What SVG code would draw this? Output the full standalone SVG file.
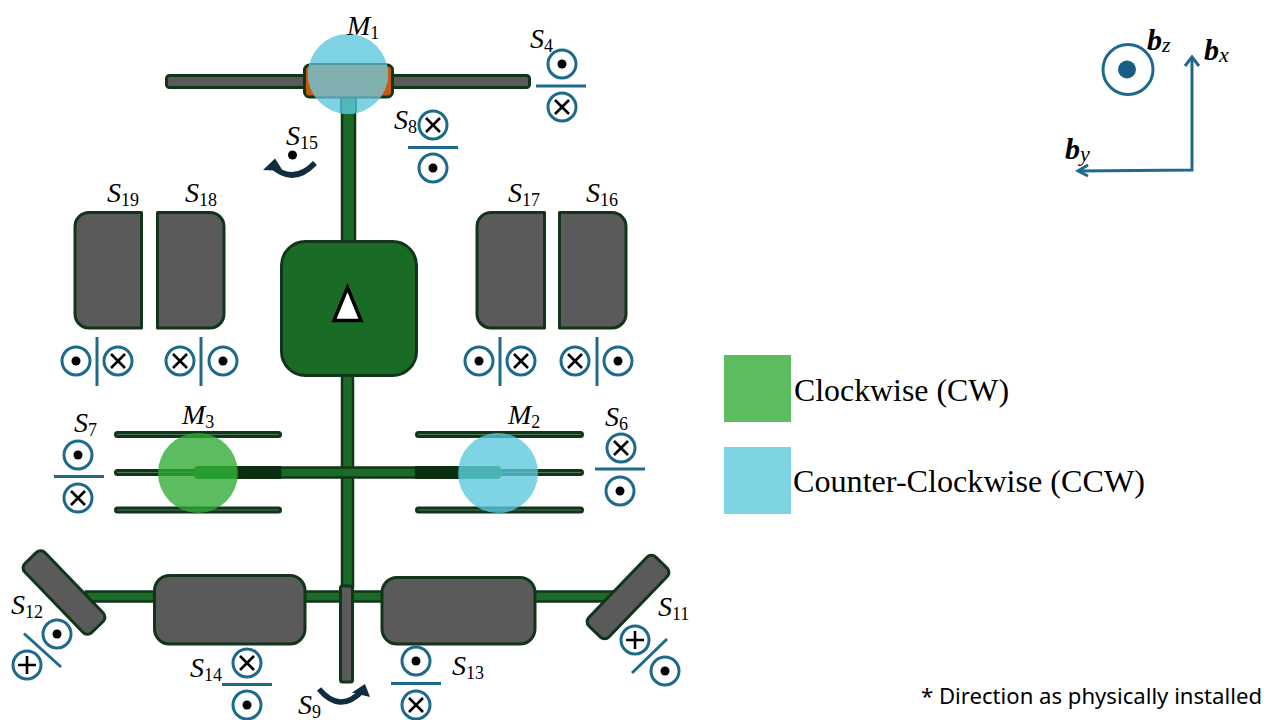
<svg xmlns="http://www.w3.org/2000/svg" xmlns:xlink="http://www.w3.org/1999/xlink" width="1280" height="720" viewBox="0 0 1280 720">
<style>
.shaft{fill:#1a6b25;stroke:#10351a;stroke-width:2.500}
.grey{fill:#5a5a5a;stroke:#10351a;stroke-width:3;stroke-linejoin:round}
.fin{fill:#4f7a55;stroke:#10351a;stroke-width:3}
.ring{fill:#fff;stroke:#1f6a8c;stroke-width:3}
.sep{stroke:#1f6a8c;stroke-width:3;fill:none}
.mark{stroke:#000;stroke-width:2.600;fill:none}
.lab{font-family:"Liberation Serif",serif;font-style:italic;font-size:28px;fill:#000}
.sub{font-style:normal;font-size:18px}
.bold{font-family:"Liberation Serif",serif;font-style:italic;font-weight:700;font-size:30px;fill:#000}
.bsub{font-style:italic;font-weight:400;font-size:22px}
.leg{font-family:"Liberation Serif",serif;font-size:32px;fill:#000}
.rot{fill:none;stroke:#0f2d3f;stroke-width:5.500}
.axis{fill:none;stroke:#1f6a8c;stroke-width:3}
</style>
<defs>
<g id="dot"><circle class="ring" r="14"/><circle r="4.500" fill="#000"/></g>
<g id="cross"><circle class="ring" r="14"/><path class="mark" d="M-7-7L7 7M7-7L-7 7"/></g>
<g id="plus"><circle class="ring" r="14"/><path class="mark" d="M-9 0H9M0-9V9"/></g>
<clipPath id="m1clip"><circle cx="348" cy="74" r="40"/></clipPath>
</defs>

<g id="connectors">
<rect class="shaft" x="342" y="96" width="13" height="146"/>
<rect class="shaft" x="342" y="375" width="11" height="212"/>
<rect class="shaft" x="280" y="467.500" width="136" height="10"/>
<rect class="shaft" x="86" y="591.500" width="530" height="10"/>
</g>

<g id="node-central">
<rect x="281.500" y="241.500" width="135" height="134" rx="24" fill="#1a6b25" stroke="#10351a" stroke-width="3"/>
<path d="M347.500 287.500L334 320.500H361Z" fill="#fff" stroke="#000" stroke-width="3.500"/>
</g>

<g id="node-M1">
<rect class="grey" x="166.500" y="75.500" width="363" height="12" rx="3"/>
<rect x="304.500" y="65" width="88" height="32" rx="5" fill="#c55a11" stroke="#10351a" stroke-width="3"/>
<circle cx="348" cy="74" r="40" fill="#7dd3e3"/>
<g clip-path="url(#m1clip)">
<rect x="304" y="64" width="89" height="33.500" fill="#80afb0" stroke="#4c9da4" stroke-width="2"/>
<rect x="341" y="98" width="15" height="18" fill="#4fb8b8" stroke="#45a5aa" stroke-width="2"/>
</g>
</g>

<g id="node-S19"><path class="grey" d="M141.500 212.500H89a14 14 0 0 0-14 14V314a14 14 0 0 0 14 14H141.500Z"/></g>
<g id="node-S18"><path class="grey" d="M157.500 212.500H210a14 14 0 0 1 14 14V314a14 14 0 0 1-14 14H157.500Z"/></g>
<g id="node-S17"><path class="grey" d="M544.500 212.500H491a14 14 0 0 0-14 14V314a14 14 0 0 0 14 14H544.500Z"/></g>
<g id="node-S16"><path class="grey" d="M559.500 212.500H612a14 14 0 0 1 14 14V314a14 14 0 0 1-14 14H559.500Z"/></g>

<g id="node-M3">
<rect class="fin" x="115.500" y="432.500" width="165" height="4" rx="2"/>
<rect class="fin" x="115.500" y="470.500" width="165" height="4" rx="2"/>
<rect class="fin" x="115.500" y="508" width="165" height="4" rx="2"/>
<rect x="195" y="467.500" width="86" height="10" rx="3" fill="#1a6b25" stroke="#1a6b25" stroke-width="3"/>
<rect x="236" y="466" width="45.500" height="13" fill="#0c2f12"/>
<circle cx="198" cy="473" r="40" fill="#2eab33" fill-opacity=".786"/>
</g>
<g id="node-M2">
<rect class="fin" x="416.500" y="432.500" width="166" height="4" rx="2"/>
<rect class="fin" x="416.500" y="470.500" width="166" height="4" rx="2"/>
<rect class="fin" x="416.500" y="508" width="166" height="4" rx="2"/>
<rect x="416" y="467.500" width="84" height="10" rx="3" fill="#1a6b25" stroke="#1a6b25" stroke-width="3"/>
<rect x="415" y="466" width="45" height="13" fill="#0c2f12"/>
<circle cx="498" cy="473" r="40" fill="#5ac7dc" fill-opacity=".786"/>
</g>

<g id="node-S14"><rect class="grey" x="154.500" y="575.500" width="150.500" height="68.500" rx="15"/></g>
<g id="node-S13"><rect class="grey" x="382" y="577.500" width="153" height="66.500" rx="15"/></g>
<g id="node-S12"><rect class="grey" x="16" y="578.500" width="96" height="28" rx="6" transform="rotate(46 64 592.500)"/></g>
<g id="node-S11"><rect class="grey" x="580" y="583" width="96" height="28" rx="6" transform="rotate(-46 628 597)"/></g>
<g id="node-S9"><rect class="grey" x="340.500" y="586" width="12" height="96" rx="2"/></g>

<g id="markers">
<use href="#dot" x="562" y="64"/><path class="sep" d="M536 86H586"/><use href="#cross" x="562" y="107"/>
<use href="#cross" x="433" y="125"/><path class="sep" d="M408 147.500H458"/><use href="#dot" x="433" y="168"/>
<use href="#dot" x="76" y="361"/><path class="sep" d="M97 337V386"/><use href="#cross" x="118" y="361"/>
<use href="#cross" x="180" y="361"/><path class="sep" d="M201 337V386"/><use href="#dot" x="223" y="361"/>
<use href="#dot" x="479" y="361"/><path class="sep" d="M500 337V386"/><use href="#cross" x="521" y="361"/>
<use href="#cross" x="575" y="361"/><path class="sep" d="M597 337V386"/><use href="#dot" x="618" y="361"/>
<use href="#dot" x="78" y="455"/><path class="sep" d="M54 476.500H104"/><use href="#cross" x="78" y="498"/>
<use href="#cross" x="621" y="448"/><path class="sep" d="M595 469H645"/><use href="#dot" x="620" y="491"/>
<use href="#dot" x="57" y="634"/><path class="sep" d="M24 633.500L61 667"/><use href="#plus" x="27" y="665"/>
<use href="#plus" x="635" y="640"/><path class="sep" d="M632 673L667 639"/><use href="#dot" x="665" y="671"/>
<use href="#cross" x="247" y="663"/><path class="sep" d="M222 684.500H272"/><use href="#dot" x="247" y="705"/>
<use href="#dot" x="416" y="661"/><path class="sep" d="M391 683.500H441"/><use href="#cross" x="416" y="705"/>
<circle cx="292.500" cy="155" r="4.500" fill="#000"/>
<path class="rot" d="M315 163Q293 186 271 165"/><path d="M263 170L275 158.500L283 171Z" fill="#0f2d3f"/>
<path class="rot" d="M319 689Q340 714 362 691"/><path d="M370 697L365 684L352 692.500Z" fill="#0f2d3f"/>
</g>

<g id="labels" transform="translate(0 1.500)">
<text class="lab" x="347" y="33">M<tspan class="sub" dy="4">1</tspan></text>
<text class="lab" x="530" y="46">S<tspan class="sub" dy="4">4</tspan></text>
<text class="lab" x="394" y="127">S<tspan class="sub" dy="4">8</tspan></text>
<text class="lab" x="286" y="143">S<tspan class="sub" dy="4">15</tspan></text>
<text class="lab" x="107" y="200">S<tspan class="sub" dy="4">19</tspan></text>
<text class="lab" x="185" y="200">S<tspan class="sub" dy="4">18</tspan></text>
<text class="lab" x="508" y="200">S<tspan class="sub" dy="4">17</tspan></text>
<text class="lab" x="586" y="200">S<tspan class="sub" dy="4">16</tspan></text>
<text class="lab" x="74" y="430">S<tspan class="sub" dy="4">7</tspan></text>
<text class="lab" x="182" y="422">M<tspan class="sub" dy="4">3</tspan></text>
<text class="lab" x="508" y="422">M<tspan class="sub" dy="4">2</tspan></text>
<text class="lab" x="605" y="424">S<tspan class="sub" dy="4">6</tspan></text>
<text class="lab" x="11" y="612">S<tspan class="sub" dy="4">12</tspan></text>
<text class="lab" x="658" y="614">S<tspan class="sub" dy="4">11</tspan></text>
<text class="lab" x="190" y="675">S<tspan class="sub" dy="4">14</tspan></text>
<text class="lab" x="452" y="673">S<tspan class="sub" dy="4">13</tspan></text>
<text class="lab" x="298" y="712">S<tspan class="sub" dy="4">9</tspan></text>
</g>

<g id="axes">
<circle cx="1128" cy="69.500" r="25" fill="none" stroke="#1f6a8c" stroke-width="3"/>
<circle cx="1127" cy="69.500" r="9" fill="#156082"/>
<path class="axis" d="M1078 171L1192 170V57"/>
<path class="axis" d="M1185 66L1192 57L1199 66M1088 165L1078 171L1088 176"/>
<text class="bold" x="1147" y="50">b<tspan class="bsub" dy="2">z</tspan></text>
<text class="bold" x="1204" y="60">b<tspan class="bsub" dy="2">x</tspan></text>
<text class="bold" x="1065" y="159">b<tspan class="bsub" dy="2">y</tspan></text>
</g>

<g id="legend">
<rect x="724" y="355" width="67" height="67" fill="#5bbd5f"/>
<rect x="724" y="447" width="67" height="67" fill="#7fd4e4"/>
<text class="leg" x="794" y="401" textLength="215" lengthAdjust="spacingAndGlyphs">Clockwise (CW)</text>
<text class="leg" x="793" y="492" textLength="352" lengthAdjust="spacingAndGlyphs">Counter-Clockwise (CCW)</text>
<text x="921" y="703.500" font-family="'Noto Sans',sans-serif" font-size="21" fill="#000" textLength="341" lengthAdjust="spacingAndGlyphs">* Direction as physically installed</text>
</g>
</svg>
